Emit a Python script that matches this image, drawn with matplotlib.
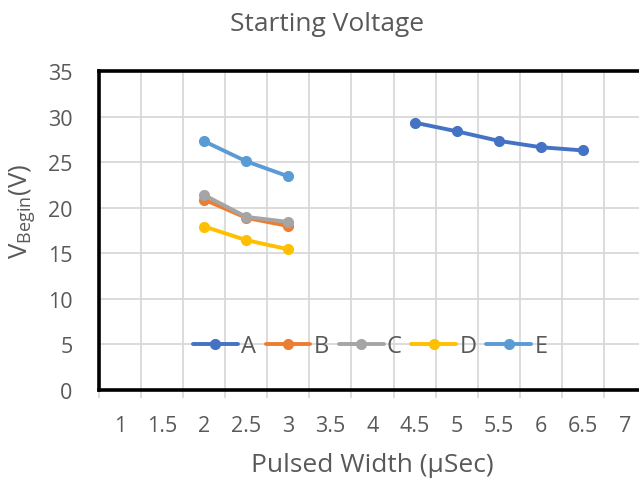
import numpy as np
import matplotlib.pyplot as plt
import matplotlib as mpl

mpl.rc('font', family=['Open Sans', 'DejaVu Sans'])

# categories on the x axis (Excel-style category axis)
categories = ['1', '1.5', '2', '2.5', '3', '3.5', '4', '4.5', '5', '5.5', '6', '6.5', '7']

x_a = ['4.5', '5', '5.5', '6', '6.5']
a_vals = [29.35, 28.4, 27.35, 26.65, 26.3]

x_short = ['2', '2.5', '3']
b_vals = [20.9, 18.9, 18.0]
c_vals = [21.4, 19.0, 18.45]
d_vals = [17.95, 16.45, 15.45]
e_vals = [27.3, 25.1, 23.45]

series = [('A', x_a, a_vals, '#4472C4'),
          ('B', x_short, b_vals, '#ED7D31'),
          ('C', x_short, c_vals, '#A5A5A5'),
          ('D', x_short, d_vals, '#FFC000'),
          ('E', x_short, e_vals, '#5B9BD5')]

txt = '#595959'

fig = plt.figure(figsize=(6.39, 4.81), dpi=100)
ax = fig.add_axes([0.155, 0.187, 0.856, 0.663])

for name, xs, ys, col in series:
    pos = [categories.index(v) for v in xs]
    ax.plot(pos, ys, color=col, lw=2.8, marker='o', ms=7, label=name,
            solid_capstyle='round', zorder=3)

ax.set_xlim(-0.5, len(categories) - 0.5)
ax.set_ylim(0, 35)
ax.set_xticks(np.arange(len(categories)))
ax.set_xticklabels(categories)
ax.set_xticks(np.arange(len(categories) + 1) - 0.5, minor=True)
ax.set_yticks(np.arange(0, 36, 5))

ax.grid(True, which='minor', axis='x', color='#D9D9D9', lw=1.3)
ax.grid(True, which='major', axis='y', color='#D9D9D9', lw=1.3)
ax.set_axisbelow(True)

ax.tick_params(axis='x', which='major', length=0, pad=18, labelsize=15.5, labelcolor=txt)
ax.tick_params(axis='x', which='minor', length=6, color='#D9D9D9', width=1.3, direction='out')
ax.tick_params(axis='y', length=0, pad=19, labelsize=15.5, labelcolor=txt)

for s in ['left', 'top', 'bottom']:
    ax.spines[s].set_linewidth(2.6)
    ax.spines[s].set_color('black')
ax.spines['right'].set_visible(False)

fig.text(0.512, 0.95, 'Starting Voltage', ha='center', va='center', fontsize=19, color=txt)
fig.text(0.582, 0.033, 'Pulsed Width (\u03bcSec)', ha='center', va='center', fontsize=19, color=txt)
fig.text(0.036, 0.56, r'V$_{\mathregular{Begin}}$(V)', ha='center', va='center',
         rotation=90, fontsize=18.5, color=txt)

fig.legend(loc='center', bbox_to_anchor=(0.579, 0.279), ncol=5, frameon=False,
           fontsize=17, labelcolor=txt, handlelength=1.9, handletextpad=0.13,
           columnspacing=0.42)

fig.savefig('out.png', dpi=100)
